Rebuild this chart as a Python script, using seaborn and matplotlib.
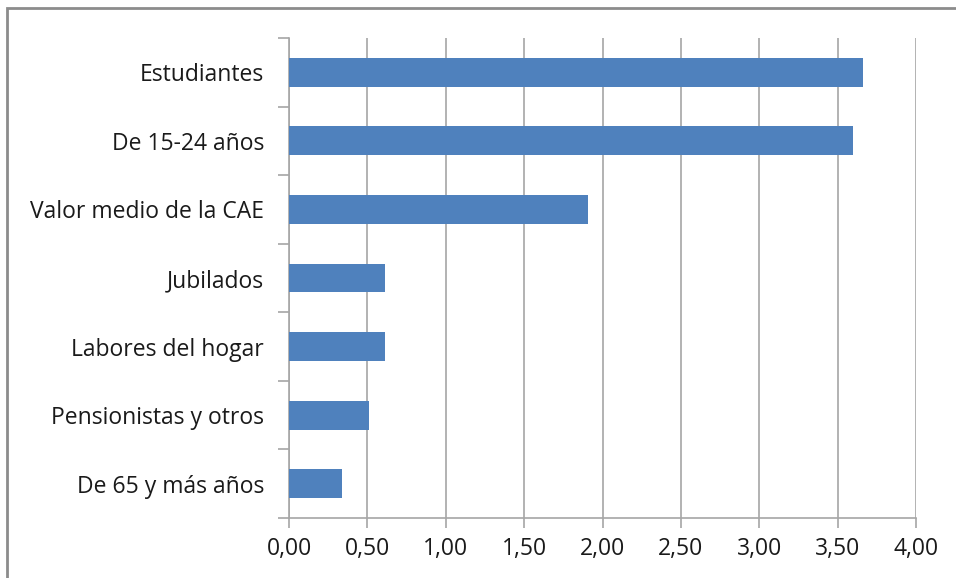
import matplotlib
matplotlib.use('Agg')
import matplotlib.pyplot as plt
import seaborn as sns
import pandas as pd
import numpy as np
from matplotlib.patches import Rectangle
from matplotlib.ticker import FuncFormatter, MultipleLocator

categories = ['Estudiantes', 'De 15-24 años', 'Valor medio de la CAE', 'Jubilados',
              'Labores del hogar', 'Pensionistas y otros', 'De 65 y más años']
values = [3.66, 3.60, 1.91, 0.61, 0.61, 0.51, 0.34]

df = pd.DataFrame({'categoria': categories, 'valor': values})

sns.set_style('white')
plt.rcParams['font.family'] = ['Open Sans', 'DejaVu Sans']

fig = plt.figure(figsize=(9.56, 5.78), dpi=100)
ax = fig.add_axes([289 / 956, 1 - 518 / 578, (916 - 289) / 956, (518 - 38) / 578])

sns.barplot(data=df, x='valor', y='categoria', color='#4F81BD', width=0.42,
            saturation=1, linewidth=0, ax=ax, zorder=3)

ax.set_xlim(0, 4)
ax.set_ylim(len(categories) - 0.5, -0.5)
ax.xaxis.set_major_locator(MultipleLocator(0.5))
ax.xaxis.set_major_formatter(FuncFormatter(lambda v, p: f'{v:.2f}'.replace('.', ',')))
ax.grid(axis='x', color='#a6a6a6', linewidth=1.2, zorder=0)
ax.set_xlabel('')
ax.set_ylabel('')

for s in ['top', 'right']:
    ax.spines[s].set_visible(False)
for s in ['left', 'bottom']:
    ax.spines[s].set_color('#a6a6a6')
    ax.spines[s].set_linewidth(1.2)

# category separators as minor ticks on the y axis
ax.set_yticks(np.arange(-0.5, len(categories), 1), minor=True)
ax.tick_params(axis='y', which='major', length=0, pad=18, labelsize=16.5, labelcolor='#1a1a1a')
ax.tick_params(axis='y', which='minor', length=8, width=1.2, color='#a6a6a6', left=True)
ax.tick_params(axis='x', which='major', length=7, width=1.2, color='#a6a6a6', bottom=True,
               labelsize=16.5, labelcolor='#1a1a1a', pad=7)

fig.patches.append(Rectangle((7 / 956, -0.1), 1.2, 1 - 8 / 578 + 0.1, transform=fig.transFigure,
                             fill=False, edgecolor='#8c8c8c', linewidth=2))

fig.savefig('out.png', dpi=100)
plt.close()
